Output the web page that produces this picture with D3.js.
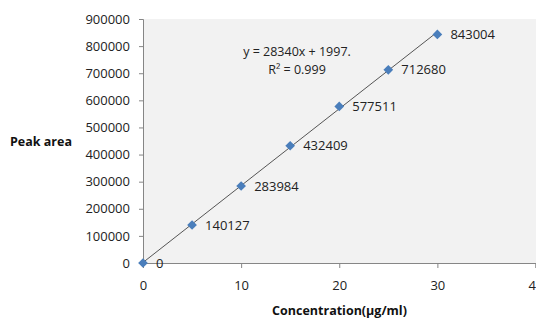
<!DOCTYPE html>
<html><head><meta charset="utf-8">
<script src="https://cdn.jsdelivr.net/npm/d3@7"></script>
<style>body{margin:0;background:#fff}svg{display:block}</style>
</head><body><svg id="c" width="536" height="320"></svg>
<script>
const concentrations = [0, 5, 10, 15, 20, 25, 30];
const peakAreas = [0, 140127, 283984, 432409, 577511, 712680, 843004];
const xTicks = [0, 10, 20, 30, 40];
const yTicks = [0, 100000, 200000, 300000, 400000, 500000, 600000, 700000, 800000, 900000];
const slope = 28340, intercept = 1997;
const equationLines = ["y = 28340x + 1997.", "R² = 0.999"];

const svg = d3.select("#c");
const font = "'Open Sans', 'Liberation Sans', sans-serif";
const x = d3.scaleLinear().domain([0, 40]).range([143, 535.5]);
const y = d3.scaleLinear().domain([0, 900000]).range([263, 19]);

svg.append("rect").attr("x", x(0)).attr("y", y(900000))
  .attr("width", 536 - x(0)).attr("height", y(0) - y(900000)).attr("fill", "#f2f2f2");

const yAxis = svg.append("g").attr("transform", `translate(${x(0)},0)`)
  .call(d3.axisLeft(y).tickValues(yTicks).tickFormat(d3.format("d")).tickSize(4).tickPadding(9));
const xAxis = svg.append("g").attr("transform", `translate(0,${y(0)})`)
  .call(d3.axisBottom(x).tickValues(xTicks).tickFormat(d3.format("d")).tickSize(5).tickPadding(13));
[yAxis, xAxis].forEach(g => {
  g.select(".domain").attr("stroke", "#868686");
  g.selectAll(".tick line").attr("stroke", "#868686");
  g.selectAll("text").attr("font-family", font).attr("font-size", 13).attr("fill", "#222");
});

svg.append("line")
  .attr("x1", x(0)).attr("y1", y(intercept))
  .attr("x2", x(30)).attr("y2", y(slope * 30 + intercept))
  .attr("stroke", "#555").attr("stroke-width", 1);

const pts = concentrations.map((c, i) => ({c, v: peakAreas[i]}));
svg.selectAll("path.pt").data(pts).enter().append("path")
  .attr("class", "pt")
  .attr("d", d3.symbol().type(d3.symbolDiamond2).size(60))
  .attr("transform", d => `translate(${x(d.c)},${y(d.v)})`)
  .attr("fill", "#4a7ebb");

svg.selectAll("text.lbl").data(pts).enter().append("text")
  .attr("class", "lbl")
  .attr("x", d => x(d.c) + 13).attr("y", d => y(d.v)).attr("dy", "0.35em")
  .attr("font-family", font).attr("font-size", 13).attr("fill", "#222")
  .text(d => d.v);

svg.selectAll("text.eq").data(equationLines).enter().append("text")
  .attr("class", "eq")
  .attr("x", 297).attr("y", (d, i) => 52 + i * 18).attr("dy", "0.35em")
  .attr("text-anchor", "middle")
  .attr("font-family", font).attr("font-size", 12.5).attr("fill", "#222")
  .text(d => d);

svg.append("text").attr("x", 41).attr("y", 142).attr("dy", "0.35em")
  .attr("text-anchor", "middle").attr("font-family", font).attr("font-weight", "bold")
  .attr("font-size", 12.5).attr("fill", "#111").text("Peak area");

svg.append("text").attr("x", 339.5).attr("y", 311).attr("dy", "0.35em")
  .attr("text-anchor", "middle").attr("font-family", font).attr("font-weight", "bold")
  .attr("font-size", 12.5).attr("fill", "#111").text("Concentration(µg/ml)");
</script></body></html>
